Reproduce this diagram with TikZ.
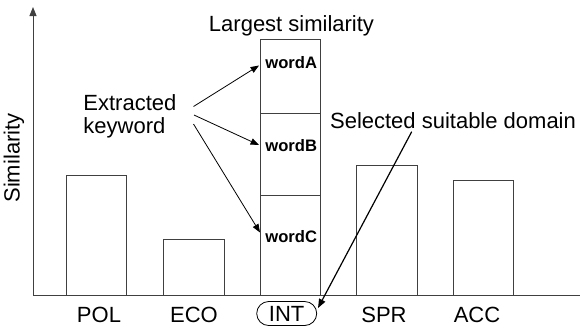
\documentclass[tikz,border=0pt]{standalone}
\usepackage{fontspec}
\setmainfont{Liberation Sans}
\usetikzlibrary{arrows.meta,shapes.misc}
\begin{document}
\begin{tikzpicture}[x=0.5pt,y=-0.5pt,
  every node/.style={inner sep=0pt, font=\fontsize{11}{11.5}\selectfont},
  bar/.style={draw=black!75, line width=0.5pt},
  axis/.style={draw=black!75, line width=0.5pt},
  word/.style={font=\fontsize{8.3}{10}\selectfont\bfseries, anchor=base west},
  cat/.style={anchor=base},
  pointer/.style={draw=black, line width=0.4pt, -{Triangle[length=4.2pt,width=3.2pt]}},
  sel/.style={draw=black, line width=0.6pt, -{Triangle[length=4.5pt,width=3.4pt]}}]
\useasboundingbox (0,0) rectangle (581,327);

% axes
\draw[axis, -{Triangle[length=4.5pt,width=3.5pt]}] (33,295) -- (33,7);
\draw[axis] (33,295) -- (580,295);
\node[rotate=90] (ylab) at (14,158) {Similarity};

% bars
\draw[bar] (66,295) rectangle (126,175);
\draw[bar] (163,295) rectangle (224,239);
\draw[bar] (260,295) rectangle (320.5,39);
\draw[bar] (260,113) -- (320.5,113);
\draw[bar] (260,195) -- (320.5,195);
\draw[bar] (356.5,295) rectangle (417,165);
\draw[bar] (453,295) rectangle (513,180);

% category labels
\node[cat] (pol) at (99,322) {POL};
\node[cat] (eco) at (194,322) {ECO};
\node[draw=black, line width=0.4pt, rounded rectangle, minimum width=30pt, minimum height=12pt] (int) at (286.7,313.5) {INT};
\node[cat] (spr) at (384,322) {SPR};
\node[cat] (acc) at (477,322) {ACC};

% keywords inside the largest bar
\node[word] (wa) at (265,68.3) {wordA};
\node[word] (wb) at (265,151.7) {wordB};
\node[word] (wc) at (265,242.5) {wordC};

% annotations
\node[anchor=base] (largest) at (291.5,31) {Largest similarity};
\node[anchor=north west, align=left] (kw) at (83,94) {Extracted\\keyword};
\node[anchor=base] (selected) at (453,128.5) {Selected suitable domain};

\coordinate (k1) at (193.5,106.5);
\coordinate (k2) at (194,115);
\coordinate (k3) at (193.5,124);
\coordinate (ta) at (259,65.5);
\coordinate (tb) at (259,145);
\coordinate (tc) at (260,232.5);
\draw[pointer] (k1) -- (ta);
\draw[pointer] (k2) -- (tb);
\draw[pointer] (k3) -- (tc);

\coordinate (s0) at (411.7,131.7);
\coordinate (s1) at (318,308);
\draw[sel] (s0) -- (s1);
\end{tikzpicture}
\end{document}
